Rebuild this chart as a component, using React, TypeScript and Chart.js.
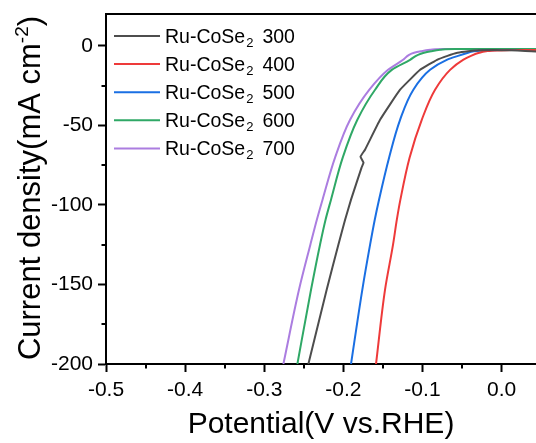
import React, { useEffect, useRef } from "react";
import { Chart, registerables } from "chart.js";

Chart.register(...registerables);

// ---- data ----
const seriesNames = ["300", "400", "500", "600", "700"];
const seriesColors = ["#4d4d4d", "#ee3a3a", "#1a6fe3", "#2fa866", "#ab7de0"];

// Ru-CoSe2 300 (with a small kink near -70 mA cm-2)
const potential300 = [-0.2442, -0.221, -0.2063, -0.1978, -0.1903, -0.177, -0.1745, -0.1783, -0.1726, -0.1536, -0.1283, -0.103, -0.0816, -0.0684, -0.0557, -0.0424, -0.0272, -0.01, 0.01, 0.03, 0.045];
const current300 = [-200, -153.2, -125, -109.3, -96.7, -76.6, -73.5, -69.7, -65.3, -46.5, -27.6, -15.1, -8.8, -6.3, -4.4, -3.45, -2.8, -2.7, -2.8, -3.2, -3.6];

// Ru-CoSe2 400
const potential400 = [-0.1587, -0.1473, -0.1372, -0.1324, -0.1279, -0.1163, -0.1009, -0.0841, -0.0651, -0.0487, -0.0386, -0.0284, -0.0196, -0.0057, 0.02, 0.045];
const current400 = [-200, -153.2, -125, -109.3, -96.7, -70.3, -46.5, -27.6, -15.1, -8.8, -6.3, -4.4, -3.45, -2.95, -2.7, -2.7];

// Ru-CoSe2 500
const potential500 = [-0.1903, -0.176, -0.1662, -0.1603, -0.1549, -0.1422, -0.1283, -0.1115, -0.0904, -0.0693, -0.055, -0.0424, -0.035, -0.0186, 0.0, 0.045];
const current500 = [-200, -153.2, -125, -109.3, -96.7, -70.3, -46.5, -27.6, -15.1, -8.8, -6.3, -4.4, -3.45, -2.95, -2.7, -2.7];

// Ru-CoSe2 600
const potential600 = [-0.2581, -0.2408, -0.2295, -0.2225, -0.2156, -0.2008, -0.1823, -0.1599, -0.1388, -0.1157, -0.1056, -0.098, -0.0891, -0.0778, -0.0588, -0.03, 0.0, 0.045];
const current600 = [-200, -153.2, -125, -109.3, -96.7, -70.3, -46.5, -27.6, -15.1, -8.8, -5.65, -4.4, -3.45, -2.5, -2.07, -2.0, -2.0, -2.0];

// Ru-CoSe2 700
const potential700 = [-0.2758, -0.256, -0.2417, -0.2335, -0.2263, -0.2105, -0.1915, -0.1671, -0.1435, -0.1245, -0.1169, -0.1106, -0.1018, -0.0904, -0.0714, -0.04, 0.0, 0.045];
const current700 = [-200, -153.2, -125, -109.3, -96.7, -70.3, -46.5, -27.6, -15.1, -8.8, -5.65, -4.4, -3.45, -2.5, -2.07, -2.0, -2.0, -2.0];

const xMin = -0.5;
const xMax = 0.0435;
const xStep = 0.05;
const yMin = -200;
const yMax = 20;
const yStep = 25;

const xTitle = "Potential(V vs.RHE)";
const yTitleMain = "Current density(mA cm";
const yTitleSup = "-2";
const yTitleEnd = ")";
const legendPrefix = "Ru-CoSe";
const legendSub = "2";

const FONT = "'Liberation Sans', Arial, Helvetica, sans-serif";

const allPotentials = [potential300, potential400, potential500, potential600, potential700];
const allCurrents = [current300, current400, current500, current600, current700];

const isMajor = (v: number, step: number) => {
  const r = v / step;
  return Math.abs(r - Math.round(r)) < 1e-6;
};

const decorPlugin = {
  id: "decor",
  afterDraw(chart: any) {
    const { ctx, chartArea } = chart;
    const xs = chart.scales.x;
    const ys = chart.scales.y;
    ctx.save();
    // top frame line
    ctx.strokeStyle = "#000";
    ctx.lineWidth = 2;
    ctx.beginPath();
    ctx.moveTo(chartArea.left - 1, chartArea.top);
    ctx.lineTo(chartArea.right + 2, chartArea.top);
    ctx.stroke();

    // minor ticks
    ctx.lineWidth = 2;
    xs.ticks.forEach((t: any) => {
      if (!isMajor(t.value, 0.1)) {
        const px = Math.round(xs.getPixelForValue(t.value));
        ctx.beginPath();
        ctx.moveTo(px, chartArea.bottom);
        ctx.lineTo(px, chartArea.bottom + 4.5);
        ctx.stroke();
      }
    });
    ys.ticks.forEach((t: any) => {
      if (!isMajor(t.value, 50)) {
        const py = Math.round(ys.getPixelForValue(t.value));
        ctx.beginPath();
        ctx.moveTo(chartArea.left, py);
        ctx.lineTo(chartArea.left - 4.5, py);
        ctx.stroke();
      }
    });

    // y-axis title with superscript
    const mainFont = `31px ${FONT}`;
    const supFont = `19px ${FONT}`;
    ctx.fillStyle = "#000";
    ctx.font = mainFont;
    const w1 = ctx.measureText(yTitleMain).width;
    const w3 = ctx.measureText(yTitleEnd).width;
    ctx.font = supFont;
    const w2 = ctx.measureText(yTitleSup).width;
    const total = w1 + w2 + w3;
    ctx.translate(40, 188);
    ctx.rotate(-Math.PI / 2);
    ctx.textBaseline = "alphabetic";
    ctx.textAlign = "left";
    const x0 = -total / 2;
    ctx.font = mainFont;
    ctx.fillText(yTitleMain, x0, 0);
    ctx.font = supFont;
    ctx.fillText(yTitleSup, x0 + w1, -12.5);
    ctx.font = mainFont;
    ctx.fillText(yTitleEnd, x0 + w1 + w2, 0);
    ctx.restore();

    // legend
    ctx.save();
    ctx.textAlign = "left";
    ctx.textBaseline = "alphabetic";
    const rowY0 = 36;
    const rowGap = 28.1;
    chart.data.datasets.forEach((ds: any, i: number) => {
      const y = rowY0 + i * rowGap;
      ctx.strokeStyle = ds.borderColor;
      ctx.lineWidth = 2;
      ctx.beginPath();
      ctx.moveTo(114, y);
      ctx.lineTo(160, y);
      ctx.stroke();
      ctx.fillStyle = "#000";
      ctx.font = `19.5px ${FONT}`;
      const a = ctx.measureText(legendPrefix).width;
      ctx.fillText(legendPrefix, 165, y + 6.5);
      ctx.font = `13px ${FONT}`;
      const b = ctx.measureText(legendSub).width;
      ctx.fillText(legendSub, 165 + a + 1, y + 10.5);
      ctx.font = `19.5px ${FONT}`;
      ctx.fillText(seriesNames[i], 165 + a + 1 + b + 9, y + 6.5);
    });
    ctx.restore();
  },
};

export default function App() {
  const ref = useRef<HTMLCanvasElement | null>(null);
  useEffect(() => {
    if (!ref.current) return;
    const datasets = seriesNames.map((name, i) => ({
      label: legendPrefix + legendSub + " " + name,
      data: allPotentials[i].map((v, k) => ({ x: v, y: allCurrents[i][k] })),
      borderColor: seriesColors[i],
      backgroundColor: seriesColors[i],
      borderWidth: 2,
      pointRadius: 0,
      showLine: true,
      indexAxis: i === 0 ? "x" : "y",
      tension: i === 0 ? 0.1 : 0.4,
      cubicInterpolationMode: i === 0 ? "default" : "monotone",
    }));
    const chart = new Chart(ref.current, {
      type: "scatter",
      data: { datasets: datasets as any },
      plugins: [decorPlugin],
      options: {
        responsive: false,
        devicePixelRatio: 1,
        animation: false,
        layout: { padding: { top: 14, right: 0, left: 0, bottom: 0 } },
        plugins: { legend: { display: false }, tooltip: { enabled: false } },
        scales: {
          x: {
            type: "linear",
            position: "bottom",
            min: xMin,
            max: xMax,
            afterFit: (s: any) => {
              s.height = 79;
              s.paddingRight = 0;
              s.paddingLeft = 0;
            },
            ticks: {
              stepSize: xStep,
              includeBounds: false,
              autoSkip: false,
              maxRotation: 0,
              color: "#000",
              padding: 6,
              font: { family: FONT, size: 21 },
              callback: (v: any) => (isMajor(Number(v), 0.1) ? Number(v).toFixed(1) : ""),
            },
            grid: {
              drawOnChartArea: false,
              drawTicks: true,
              tickLength: 8,
              tickWidth: 2,
              tickColor: (c: any) => (c.tick && isMajor(c.tick.value, 0.1) ? "#000" : "rgba(0,0,0,0)"),
            },
            border: { display: true, color: "#000", width: 2 },
            title: {
              display: true,
              text: xTitle,
              color: "#000",
              font: { family: FONT, size: 30 },
              padding: { top: 0, bottom: 0 },
            },
          },
          y: {
            type: "linear",
            position: "left",
            min: yMin,
            max: yMax,
            afterFit: (s: any) => {
              s.width = 106;
              s.paddingTop = 0;
              s.paddingBottom = 0;
            },
            ticks: {
              stepSize: yStep,
              includeBounds: false,
              autoSkip: false,
              color: "#000",
              padding: 5,
              font: { family: FONT, size: 21 },
              callback: (v: any) => (isMajor(Number(v), 50) ? String(v) : ""),
            },
            grid: {
              drawOnChartArea: false,
              drawTicks: true,
              tickLength: 8,
              tickWidth: 2,
              tickColor: (c: any) => (c.tick && isMajor(c.tick.value, 50) ? "#000" : "rgba(0,0,0,0)"),
            },
            border: { display: true, color: "#000", width: 2 },
          },
        },
      } as any,
    });
    return () => chart.destroy();
  }, []);
  return (
    <div style={{ position: "absolute", left: 0, top: 0, width: 536, height: 443 }}>
      <canvas ref={ref} width={536} height={443} style={{ display: "block" }} />
    </div>
  );
}
